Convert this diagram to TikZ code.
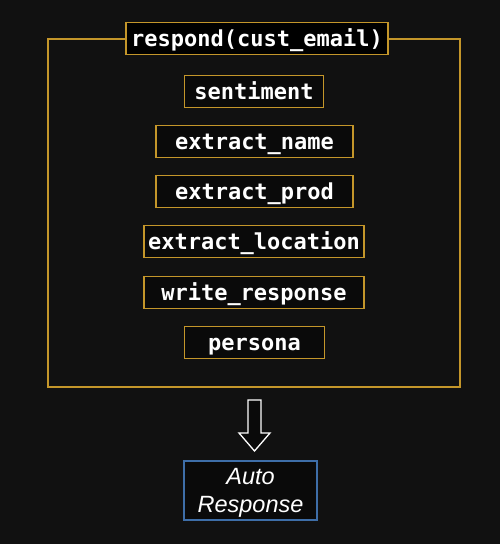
\documentclass[tikz,border=0pt]{standalone}
\usepackage{fontspec}
\usetikzlibrary{calc}
\newfontfamily\monof{DejaVu Sans Mono}
\newfontfamily\sansf{Liberation Sans}
\definecolor{bg}{RGB}{17,17,17}
\definecolor{boxfill}{RGB}{10,10,10}
\definecolor{gold}{RGB}{196,150,42}
\definecolor{bluebd}{RGB}{62,110,168}
\begin{document}
\begin{tikzpicture}[x=1pt,y=-1pt,
  fnbox/.style={draw=gold, line width=1.8pt, fill=boxfill, text=white,
    inner sep=0pt, minimum height=32pt, text height=17pt, text depth=2pt,
    font=\monof\bfseries\fontsize{22}{24}\selectfont},
  outbox/.style={draw=bluebd, line width=1.6pt, fill=boxfill,
    inner sep=0pt, minimum width=133pt, minimum height=59pt},
  autotext/.style={text=white, align=center, inner sep=0pt,
    font=\sansf\itshape\fontsize{23.5}{28}\selectfont},
  hollowarrow/.style={draw=white, line width=1.3pt, fill=boxfill, line join=miter}]
\fill[bg] (0,0) rectangle (500,544);
\useasboundingbox (0,0) rectangle (500,544);
% outer frame
\draw[gold, line width=1.8pt] (48,39) rectangle (460,387);
\node[fnbox, minimum width=262pt, fill=black] (title) at (257,38.5) {respond(cust\_email)};
\node[fnbox, minimum width=139pt] (sent) at (254,91.5) {sentiment};
\node[fnbox, minimum width=197pt] (ename) at (254.5,141.5) {extract\_name};
\node[fnbox, minimum width=197pt] (eprod) at (254.5,191.5) {extract\_prod};
\node[fnbox, minimum width=220pt] (eloc) at (254,241.5) {extract\_location};
\node[fnbox, minimum width=220pt] (wresp) at (254,292.5) {write\_response};
\node[fnbox, minimum width=140pt] (pers) at (254.5,342.5) {persona};
% hollow arrow
\coordinate (atop) at (254.5,400);
\coordinate (atip) at (254.5,451);
\draw[hollowarrow] ($(atop)+(-6.5,0)$) -- ($(atop)+(6.5,0)$) -- (261,433) -- (270,433)
  -- (atip) -- (239,433) -- (248,433) -- cycle;
\node[outbox, label={[autotext, yshift=-2.5pt]center:Auto\\Response}] (auto) at (250.5,490.5) {};
\end{tikzpicture}
\end{document}
